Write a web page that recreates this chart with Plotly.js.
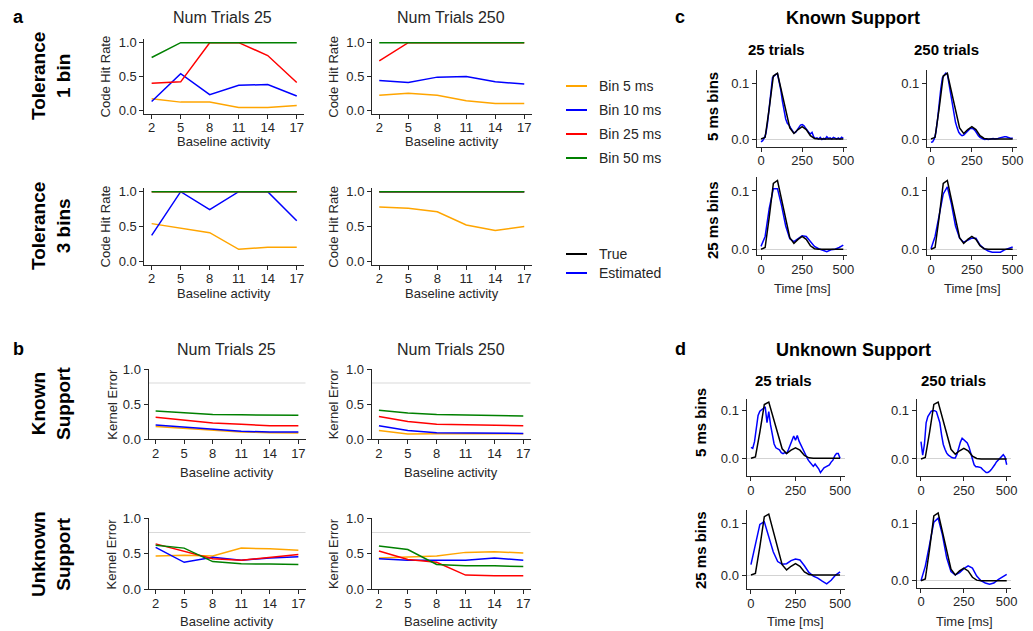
<!DOCTYPE html>
<html>
<head>
<meta charset="utf-8">
<script src="https://cdn.plot.ly/plotly-3.0.1.min.js"></script>
<style>html,body{margin:0;padding:0;background:#fff}#chart{width:1033px;height:631px}</style>
</head>
<body>
<div id="chart"></div>
<script>
// ---------------- DATA ----------------
const baselineActivity = [2, 5, 8, 11, 14, 17];
const binLabels = ['Bin 5 ms', 'Bin 10 ms', 'Bin 25 ms', 'Bin 50 ms'];
const binColors = ['#ffa500', '#0000ff', '#ff0000', '#008000'];

// (a) Code hit rate, tolerance 1 bin
const hitTol1Trials25Bin5  = [0.17, 0.12, 0.12, 0.04, 0.04, 0.07];
const hitTol1Trials25Bin10 = [0.13, 0.54, 0.23, 0.37, 0.38, 0.21];
const hitTol1Trials25Bin25 = [0.40, 0.42, 1.00, 1.00, 0.81, 0.41];
const hitTol1Trials25Bin50 = [0.78, 1.00, 1.00, 1.00, 1.00, 1.00];
const hitTol1Trials250Bin5  = [0.22, 0.25, 0.22, 0.14, 0.10, 0.10];
const hitTol1Trials250Bin10 = [0.44, 0.41, 0.49, 0.50, 0.42, 0.39];
const hitTol1Trials250Bin25 = [0.73, 1.00, 1.00, 1.00, 1.00, 1.00];
const hitTol1Trials250Bin50 = [1.00, 1.00, 1.00, 1.00, 1.00, 1.00];
// (a) Code hit rate, tolerance 3 bins
const hitTol3Trials25Bin5  = [0.54, 0.48, 0.41, 0.17, 0.20, 0.20];
const hitTol3Trials25Bin10 = [0.37, 1.00, 0.74, 1.00, 1.00, 0.58];
const hitTol3Trials25Bin25 = [1.00, 1.00, 1.00, 1.00, 1.00, 1.00];
const hitTol3Trials25Bin50 = [1.00, 1.00, 1.00, 1.00, 1.00, 1.00];
const hitTol3Trials250Bin5  = [0.78, 0.76, 0.71, 0.52, 0.44, 0.50];
const hitTol3Trials250Bin10 = [1.00, 1.00, 1.00, 1.00, 1.00, 1.00];
const hitTol3Trials250Bin25 = [1.00, 1.00, 1.00, 1.00, 1.00, 1.00];
const hitTol3Trials250Bin50 = [1.00, 1.00, 1.00, 1.00, 1.00, 1.00];

// (b) Kernel error, known support
const errKnownTrials25Bin5  = [0.18, 0.15, 0.12, 0.10, 0.09, 0.085];
const errKnownTrials25Bin10 = [0.20, 0.17, 0.13, 0.11, 0.10, 0.10];
const errKnownTrials25Bin25 = [0.31, 0.27, 0.23, 0.21, 0.19, 0.19];
const errKnownTrials25Bin50 = [0.40, 0.38, 0.35, 0.345, 0.34, 0.34];
const errKnownTrials250Bin5  = [0.12, 0.07, 0.075, 0.08, 0.075, 0.075];
const errKnownTrials250Bin10 = [0.19, 0.12, 0.09, 0.09, 0.085, 0.08];
const errKnownTrials250Bin25 = [0.32, 0.25, 0.21, 0.20, 0.19, 0.19];
const errKnownTrials250Bin50 = [0.41, 0.37, 0.35, 0.34, 0.33, 0.33];
// (b) Kernel error, unknown support
const errUnknownTrials25Bin5  = [0.47, 0.48, 0.47, 0.58, 0.57, 0.55];
const errUnknownTrials25Bin10 = [0.59, 0.38, 0.45, 0.41, 0.44, 0.46];
const errUnknownTrials25Bin25 = [0.64, 0.53, 0.43, 0.41, 0.45, 0.49];
const errUnknownTrials25Bin50 = [0.62, 0.58, 0.39, 0.36, 0.355, 0.35];
const errUnknownTrials250Bin5  = [0.44, 0.46, 0.47, 0.52, 0.53, 0.51];
const errUnknownTrials250Bin10 = [0.43, 0.41, 0.41, 0.41, 0.44, 0.41];
const errUnknownTrials250Bin25 = [0.54, 0.42, 0.38, 0.20, 0.19, 0.19];
const errUnknownTrials250Bin50 = [0.61, 0.56, 0.35, 0.33, 0.33, 0.32];
const errorReferenceLevel = 0.8;

// (c, d) kernels over time
const time25 = [0,25,50,75,100,125,150,175,200,225,250,275,300,325,350,375,400,425,450,475,500];
const time10 = [0,10,20,30,40,50,60,70,80,90,100,110,120,130,140,150,160,170,180,190,200,
                210,220,230,240,250,260,270,280,290,300,310,320,330,340,350,360,370,380,390,400,
                410,420,430,440,450,460,470,480,490,500];
const trueKernel = [0, 0.003, 0.055, 0.113, 0.118, 0.085, 0.050, 0.020, 0.010, 0.017, 0.022,
                    0.017, 0.006, 0.001, 0, 0, 0.001, 0, 0, 0, 0];
// known support
const estKnown25Trials5ms = [-0.005,-0.003,0.002,0.010,0.030,0.060,0.090,0.110,0.113,0.116,0.117,
  0.105,0.088,0.068,0.050,0.036,0.028,0.025,0.020,0.014,0.011,0.012,0.016,0.020,0.025,0.026,
  0.024,0.020,0.015,0.012,0.009,0.012,0.004,0.001,0.002,0.000,0.003,-0.001,0.001,0.000,0.004,
  0.001,0.002,0.000,0.003,0.001,0.000,0.002,0.000,0.003,0.001];
const estKnown250Trials5ms = [-0.006,-0.005,0.000,0.012,0.035,0.065,0.090,0.110,0.114,0.118,0.117,
  0.100,0.080,0.060,0.042,0.030,0.020,0.012,0.008,0.006,0.007,0.010,0.014,0.017,0.019,0.019,
  0.018,0.015,0.010,0.006,0.003,0.001,0.000,-0.001,0.000,-0.001,0.000,0.000,0.001,0.000,0.000,
  0.001,0.002,0.003,0.004,0.004,0.004,0.003,0.002,0.001,0.002];
const estKnown25Trials25ms = [0.005,0.022,0.070,0.104,0.104,0.075,0.040,0.018,0.013,0.018,0.023,
  0.022,0.013,0.005,0.001,-0.002,-0.004,-0.001,0.000,0.003,0.007];
const estKnown250Trials25ms = [0.001,0.022,0.058,0.095,0.107,0.078,0.040,0.019,0.012,0.015,0.019,
  0.019,0.007,0.001,-0.003,-0.005,-0.005,-0.005,-0.001,0.002,0.004];
// unknown support
const estUnknown25Trials5ms = [0.023,0.021,0.035,0.065,0.090,0.099,0.102,0.104,0.108,0.075,0.098,
  0.070,0.045,0.030,0.022,0.020,0.018,0.012,0.010,0.012,0.010,0.018,0.028,0.040,0.047,0.038,
  0.048,0.036,0.028,0.020,0.010,0.004,-0.003,-0.008,-0.012,-0.017,-0.012,-0.016,-0.022,-0.030,
  -0.024,-0.020,-0.018,-0.016,-0.014,-0.008,-0.004,0.005,0.010,0.010,0.000];
const estUnknown250Trials5ms = [0.036,0.008,0.030,0.075,0.088,0.095,0.099,0.100,0.100,0.098,0.088,
  0.075,0.050,0.030,0.020,0.012,0.008,0.005,0.003,0.002,0.002,0.010,0.025,0.035,0.043,0.040,
  0.038,0.033,0.025,0.010,0.000,-0.012,-0.016,-0.016,-0.017,-0.018,-0.022,-0.026,-0.028,-0.028,
  -0.026,-0.022,-0.018,-0.012,-0.006,-0.002,0.002,0.006,0.009,0.004,-0.012];
const estUnknown25Trials25ms = [0.020,0.060,0.098,0.103,0.075,0.045,0.026,0.021,0.022,0.028,0.031,
  0.029,0.018,0.005,-0.002,-0.006,-0.012,-0.017,-0.010,0.000,0.006];
const estUnknown250Trials25ms = [0.000,0.025,0.063,0.102,0.109,0.080,0.040,0.016,0.010,0.014,0.021,
  0.026,0.022,0.008,0.000,-0.004,-0.006,-0.004,0.002,0.007,0.011];

const hitTicks = [0, 0.5, 1.0];
const hitTickText = ['0.0', '0.5', '1.0'];
const timeTicks = [0, 250, 500];
const kernelTicks = [0, 0.1];
const kernelTickText = ['0.0', '0.1'];

// ---------------- LAYOUT HELPERS ----------------
const W = 1033, H = 631;
const FONT = '"Liberation Sans", Arial, sans-serif';
const INK = '#262626';
const px = v => v / W;
const py = v => 1 - v / H;

// subplot boxes in pixels: [left, right], [top, bottom]
const boxes = {
  1: {x: [144.4, 304], y: [39.3, 113.6]},
  2: {x: [372, 531.5], y: [39.3, 113.6]},
  3: {x: [144.4, 304], y: [188.2, 264.6]},
  4: {x: [372, 531.5], y: [188.2, 264.6]},
  5: {x: [148.5, 305.5], y: [369, 439]},
  6: {x: [371.7, 530.5], y: [369, 439]},
  7: {x: [148.5, 305.5], y: [518.3, 589.3]},
  8: {x: [371.7, 530.5], y: [518.3, 589.3]},
  9: {x: [756.9, 847.4], y: [69.9, 146.8]},
  10: {x: [926.9, 1016.8], y: [69.9, 146.8]},
  11: {x: [756.9, 847.4], y: [177, 255.1]},
  12: {x: [926.9, 1016.8], y: [177, 255.1]},
  13: {x: [746.5, 844.5], y: [398.6, 476.1]},
  14: {x: [916.7, 1011], y: [398.5, 476]},
  15: {x: [746.5, 844.5], y: [510.4, 589]},
  16: {x: [916.7, 1011], y: [510.1, 587.6]}
};
const kernelYRange = {9: [-0.014, 0.124], 10: [-0.014, 0.124], 11: [-0.010, 0.124], 12: [-0.010, 0.124],
  13: [-0.0374, 0.1254], 14: [-0.0353, 0.1253], 15: [-0.027, 0.125], 16: [-0.012, 0.123]};

const layout = {
  width: W, height: H,
  margin: {l: 0, r: 0, t: 0, b: 0},
  paper_bgcolor: '#fff', plot_bgcolor: 'rgba(0,0,0,0)',
  showlegend: false,
  font: {family: FONT, color: INK, size: 13},
  annotations: [], shapes: []
};
const traces = [];
const axName = (k, id) => id === 1 ? k : k + id;

function baseAxis() {
  return {showline: true, linecolor: INK, linewidth: 1, mirror: false, ticks: 'outside', ticklen: 4,
    tickwidth: 1, tickcolor: INK, showgrid: false, zeroline: false, fixedrange: true,
    tickfont: {family: FONT, size: 13, color: INK}};
}

for (let id = 1; id <= 16; id++) {
  const b = boxes[id];
  const xa = baseAxis(), ya = baseAxis();
  xa.domain = [px(b.x[0]), px(b.x[1])];
  ya.domain = [py(b.y[1]), py(b.y[0])];
  xa.anchor = axName('y', id);
  ya.anchor = axName('x', id);
  xa.ticklabelstandoff = -2;
  if (id <= 8) {
    xa.range = [1.25, 17.75];
    xa.tickvals = baselineActivity;
    xa.ticktext = baselineActivity.map(String);
    ya.range = id <= 4 ? [-0.05, 1.05] : [0, 1.0];
    ya.tickvals = hitTicks; ya.ticktext = hitTickText;
  } else {
    xa.range = [-25, 525];
    xa.tickvals = timeTicks; xa.ticktext = timeTicks.map(String);
    ya.range = kernelYRange[id];
    ya.tickvals = kernelTicks; ya.ticktext = kernelTickText;
    ya.zeroline = true; ya.zerolinecolor = '#d3d3d3'; ya.zerolinewidth = 1;
  }
  layout[id === 1 ? 'xaxis' : 'xaxis' + id] = xa;
  layout[id === 1 ? 'yaxis' : 'yaxis' + id] = ya;
}

function addLine(id, x, y, color) {
  traces.push({type: 'scatter', mode: 'lines', x: x, y: y, xaxis: axName('x', id), yaxis: axName('y', id),
    line: {color: color, width: 1.5}, hoverinfo: 'skip', showlegend: false});
}

const panelSeries = {
  1: [hitTol1Trials25Bin5, hitTol1Trials25Bin10, hitTol1Trials25Bin25, hitTol1Trials25Bin50],
  2: [hitTol1Trials250Bin5, hitTol1Trials250Bin10, hitTol1Trials250Bin25, hitTol1Trials250Bin50],
  3: [hitTol3Trials25Bin5, hitTol3Trials25Bin10, hitTol3Trials25Bin25, hitTol3Trials25Bin50],
  4: [hitTol3Trials250Bin5, hitTol3Trials250Bin10, hitTol3Trials250Bin25, hitTol3Trials250Bin50],
  5: [errKnownTrials25Bin5, errKnownTrials25Bin10, errKnownTrials25Bin25, errKnownTrials25Bin50],
  6: [errKnownTrials250Bin5, errKnownTrials250Bin10, errKnownTrials250Bin25, errKnownTrials250Bin50],
  7: [errUnknownTrials25Bin5, errUnknownTrials25Bin10, errUnknownTrials25Bin25, errUnknownTrials25Bin50],
  8: [errUnknownTrials250Bin5, errUnknownTrials250Bin10, errUnknownTrials250Bin25, errUnknownTrials250Bin50]
};
for (let id = 1; id <= 8; id++) {
  panelSeries[id].forEach((s, i) => addLine(id, baselineActivity, s, binColors[i]));
}
for (let id = 5; id <= 8; id++) {
  layout.shapes.push({type: 'line', xref: axName('x', id) + ' domain', x0: 0, x1: 1,
    yref: axName('y', id), y0: errorReferenceLevel, y1: errorReferenceLevel,
    line: {color: '#d9d9d9', width: 1}, layer: 'below'});
}
const kernelPanels = [
  [9, time10, estKnown25Trials5ms], [10, time10, estKnown250Trials5ms],
  [11, time25, estKnown25Trials25ms], [12, time25, estKnown250Trials25ms],
  [13, time10, estUnknown25Trials5ms], [14, time10, estUnknown250Trials5ms],
  [15, time25, estUnknown25Trials25ms], [16, time25, estUnknown250Trials25ms]
];
kernelPanels.forEach(([id, t, est]) => {
  addLine(id, t, est, '#0000ff');
  addLine(id, time25, trueKernel, '#000000');
});

// ---------------- TEXT ----------------
function ann(text, x, y, opts) {
  layout.annotations.push(Object.assign({text: text, x: px(x), y: py(y), xref: 'paper', yref: 'paper',
    showarrow: false, xanchor: 'center', yanchor: 'middle',
    font: {family: FONT, size: 13, color: INK}}, opts || {}));
}
const bold = (size) => ({family: FONT, size: size, color: '#000'});
// panel letters
ann('<b>a</b>', 18, 17, {font: bold(18)});
ann('<b>b</b>', 18, 349, {font: bold(18)});
ann('<b>c</b>', 680, 17, {font: bold(18)});
ann('<b>d</b>', 680, 349, {font: bold(18)});
// column titles
ann('Num Trials 25', 222, 18, {font: {family: FONT, size: 16, color: INK}});
ann('Num Trials 250', 451, 18, {font: {family: FONT, size: 16, color: INK}});
ann('Num Trials 25', 226, 349, {font: {family: FONT, size: 16, color: INK}});
ann('Num Trials 250', 451, 349, {font: {family: FONT, size: 16, color: INK}});
// row titles
ann('<b>Tolerance</b><br><b>1 bin</b>', 51, 76, {textangle: -90, font: bold(19)});
ann('<b>Tolerance</b><br><b>3 bins</b>', 51, 226, {textangle: -90, font: bold(19)});
ann('<b>Known</b><br><b>Support</b>', 51, 404, {textangle: -90, font: bold(19)});
ann('<b>Unknown</b><br><b>Support</b>', 51, 554, {textangle: -90, font: bold(19)});
// axis titles a/b
[[1, 'Code Hit Rate', 141.5], [2, 'Code Hit Rate', 141.5], [3, 'Code Hit Rate', 293], [4, 'Code Hit Rate', 293],
 [5, 'Kernel Error', 472.5], [6, 'Kernel Error', 472.5], [7, 'Kernel Error', 621.5], [8, 'Kernel Error', 621.5]].forEach(([id, yt, xy]) => {
  const b = boxes[id];
  ann('Baseline activity', (b.x[0] + b.x[1]) / 2, xy);
  const ylx = (id % 2 === 1) ? (id <= 4 ? 105 : 111.7) : 333.3;
  ann(yt, ylx, (b.y[0] + b.y[1]) / 2, {textangle: -90});
});
// legends
const legendY = [86, 110, 134, 158];
binLabels.forEach((lab, i) => {
  layout.shapes.push({type: 'line', xref: 'paper', yref: 'paper', x0: px(566), x1: px(587),
    y0: py(legendY[i]), y1: py(legendY[i]), line: {color: binColors[i], width: 2}});
  ann(lab, 597, legendY[i], {xanchor: 'left', font: {family: FONT, size: 14, color: INK}});
});
[['True', '#000000', 254], ['Estimated', '#0000ff', 273]].forEach(([lab, col, y]) => {
  layout.shapes.push({type: 'line', xref: 'paper', yref: 'paper', x0: px(566), x1: px(587),
    y0: py(y), y1: py(y), line: {color: col, width: 2}});
  ann(lab, 597, y, {xanchor: 'left', font: {family: FONT, size: 14, color: INK}});
});
// c & d titles
ann('<b>Known Support</b>', 853, 18, {font: bold(18)});
ann('<b>Unknown Support</b>', 853, 350, {font: bold(18)});
ann('<b>25 trials</b>', 776, 49, {font: bold(15)});
ann('<b>250 trials</b>', 946, 49, {font: bold(15)});
ann('<b>25 trials</b>', 783, 380, {font: bold(15)});
ann('<b>250 trials</b>', 953, 380, {font: bold(15)});
ann('<b>5 ms bins</b>', 712, 107, {textangle: -90, font: bold(15)});
ann('<b>25 ms bins</b>', 712, 220, {textangle: -90, font: bold(15)});
ann('<b>5 ms bins</b>', 700, 423, {textangle: -90, font: bold(15)});
ann('<b>25 ms bins</b>', 700, 550, {textangle: -90, font: bold(15)});
ann('Time [ms]', 802, 288);
ann('Time [ms]', 972, 288);
ann('Time [ms]', 795.5, 621);
ann('Time [ms]', 964, 621);

Plotly.newPlot('chart', traces, layout, {staticPlot: true, displayModeBar: false});
</script>
</body>
</html>
